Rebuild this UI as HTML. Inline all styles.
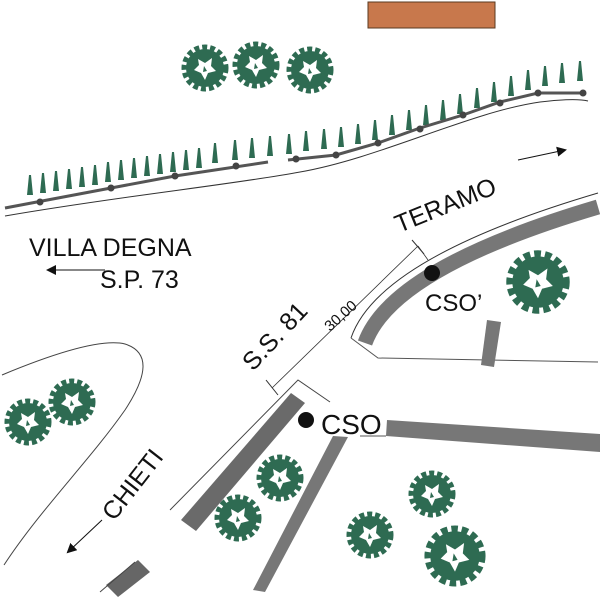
<!DOCTYPE html>
<html><head><style>
html,body{margin:0;padding:0;background:#fff;}
svg{display:block;}
text{font-family:"Liberation Sans",Arial,sans-serif;fill:#111;}
</style></head><body>
<svg width="600" height="600" viewBox="0 0 600 600" xmlns="http://www.w3.org/2000/svg">
<defs>
<g id="tree">
  <circle r="19" fill="#2e6b52"/>
  <circle r="21" fill="none" stroke="#2e6b52" stroke-width="5" stroke-dasharray="5 3"/>
  <path d="M-7,-9 L0,-5 L7,-10 L6,-2 L11,3 L3,5 L0,12 L-4,5 L-11,2 L-6,-3 Z" fill="#fff"/>
  <path d="M-1,-2 L2,3 L-2,4 Z" fill="#2e6b52"/>
</g>
<polygon id="cone" points="-3,0 3,0 1,-20 -1,-20" fill="#2e6b52"/>
<marker id="ah" markerWidth="10" markerHeight="10" refX="8" refY="5" orient="auto" markerUnits="userSpaceOnUse">
  <path d="M0,0 L10,5 L0,10 Z" fill="#111"/>
</marker>
</defs>

<rect x="368" y="2" width="127" height="26" fill="#c8784c" stroke="#5a3a20" stroke-width="1"/>

<use href="#tree" x="205" y="68"/>
<use href="#tree" x="256" y="65"/>
<use href="#tree" x="310" y="70"/>

<g>
<use href="#cone" x="30" y="195"/><use href="#cone" x="43" y="193"/><use href="#cone" x="56" y="191"/><use href="#cone" x="69" y="189"/><use href="#cone" x="82" y="187"/><use href="#cone" x="95" y="185"/><use href="#cone" x="108" y="182"/><use href="#cone" x="121" y="180"/><use href="#cone" x="134" y="178"/><use href="#cone" x="147" y="176"/><use href="#cone" x="160" y="174"/><use href="#cone" x="173" y="172"/><use href="#cone" x="186" y="170"/><use href="#cone" x="199" y="168"/><use href="#cone" x="215" y="163"/><use href="#cone" x="235" y="160"/><use href="#cone" x="252" y="158"/><use href="#cone" x="270" y="156"/><use href="#cone" x="289" y="154"/><use href="#cone" x="306" y="151"/><use href="#cone" x="324" y="149"/><use href="#cone" x="341" y="147"/><use href="#cone" x="358" y="144"/><use href="#cone" x="375" y="140"/><use href="#cone" x="392" y="135"/><use href="#cone" x="409" y="130"/><use href="#cone" x="426" y="125"/><use href="#cone" x="443" y="120"/><use href="#cone" x="460" y="114"/><use href="#cone" x="477" y="108"/><use href="#cone" x="494" y="102"/><use href="#cone" x="511" y="96"/><use href="#cone" x="528" y="90"/><use href="#cone" x="545" y="86"/><use href="#cone" x="562" y="83"/><use href="#cone" x="580" y="81"/>
</g>

<path d="M5,208 L111,188 L175,176 L268,162" fill="none" stroke="#555" stroke-width="3"/>
<path d="M288,160 L336,155 L378,143 L420,128 L463,115 L500,102 L538,93 L585,93" fill="none" stroke="#555" stroke-width="3"/>
<g fill="#444">
<circle cx="40" cy="202" r="3.5"/><circle cx="111" cy="188" r="3.5"/><circle cx="175" cy="176" r="3.5"/><circle cx="236" cy="166" r="3.5"/><circle cx="296" cy="159" r="3.5"/><circle cx="336" cy="155" r="3.5"/><circle cx="378" cy="143" r="3.5"/><circle cx="420" cy="129" r="3.5"/><circle cx="463" cy="115" r="3.5"/><circle cx="500" cy="103" r="3.5"/><circle cx="538" cy="93" r="3.5"/><circle cx="583" cy="93" r="3.5"/>
</g>
<path d="M5,216 C120,196 230,185 300,172 C380,158 470,112 540,102 C565,99 580,99 588,101" fill="none" stroke="#333" stroke-width="1"/>

<!-- Teramo curb -->
<path d="M351,338 Q378,258 598,193" fill="none" stroke="#333" stroke-width="1"/>
<path d="M365,343 Q392,268 598,207" fill="none" stroke="#777" stroke-width="15"/>
<path d="M351,338 L378,358 L598,362" fill="none" stroke="#555" stroke-width="1"/>
<polygon points="487,320 501,322 494,367 481,365" fill="#777"/>
<circle cx="432" cy="273" r="8" fill="#111"/>
<text x="425" y="311" font-size="24">CSO’</text>
<use href="#tree" transform="translate(538 282) scale(1.35)"/>

<line x1="272" y1="388" x2="418" y2="246" stroke="#333" stroke-width="0.8"/>
<line x1="266" y1="380" x2="278" y2="395" stroke="#333" stroke-width="1"/>
<line x1="412" y1="240" x2="424" y2="254" stroke="#333" stroke-width="1"/>
<line x1="418" y1="246" x2="428" y2="260" stroke="#333" stroke-width="0.8"/>
<text transform="translate(330 332) rotate(-42)" font-size="15">30,00</text>
<text transform="translate(253 372) rotate(-47)" font-size="25">S.S. 81</text>

<path d="M170,510 L298,380 L330,402" fill="none" stroke="#444" stroke-width="1"/>
<polygon points="291,393 305,403 196,531 181,520" fill="#6a6a6a"/>
<circle cx="306" cy="420" r="8" fill="#111"/>
<text x="321" y="434" font-size="28">CSO</text>
<polygon points="387,420 600,434 600,452 386,436" fill="#777"/>
<line x1="360" y1="436" x2="386" y2="436" stroke="#555" stroke-width="1"/>
<polygon points="333,436 348,437 265,592 253,590" fill="#777"/>
<polygon points="106,585 138,560 150,572 118,597" fill="#666"/>
<line x1="100" y1="592" x2="135" y2="562" stroke="#444" stroke-width="1"/>

<path d="M2,375 C50,355 100,338 125,344 C150,352 148,375 125,410 C90,460 40,510 4,565" fill="none" stroke="#444" stroke-width="1"/>

<use href="#tree" x="28" y="422"/>
<use href="#tree" x="72" y="402"/>
<use href="#tree" x="280" y="478"/>
<use href="#tree" x="238" y="518"/>
<use href="#tree" x="370" y="535"/>
<use href="#tree" x="432" y="494"/>
<use href="#tree" transform="translate(455 556) scale(1.3)"/>

<text x="29" y="256" font-size="25">VILLA DEGNA</text>
<line x1="105" y1="270" x2="48" y2="270" stroke="#111" stroke-width="1" marker-end="url(#ah)"/>
<text x="100" y="288" font-size="25">S.P. 73</text>
<text transform="translate(399 233) rotate(-22)" font-size="25">TERAMO</text>
<line x1="518" y1="160" x2="565" y2="150" stroke="#111" stroke-width="1" marker-end="url(#ah)"/>
<text transform="translate(114 522) rotate(-52)" font-size="25">CHIETI</text>
<line x1="102" y1="520" x2="68" y2="552" stroke="#111" stroke-width="1" marker-end="url(#ah)"/>
</svg>
</body></html>
